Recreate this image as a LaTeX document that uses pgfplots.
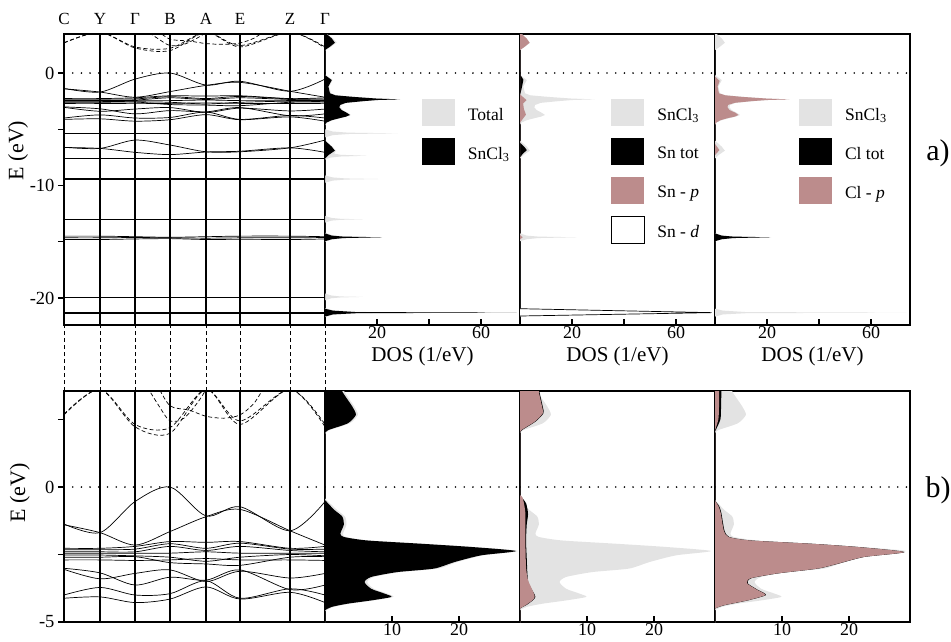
\documentclass[border=0pt]{standalone}
\usepackage{pgfplots}
\pgfplotsset{compat=1.18}
\usepackage{pgfplotstable}
\usepackage{fontspec}
\setmainfont{Liberation Serif}
\definecolor{dosgray}{RGB}{227,227,227}
\definecolor{dospink}{RGB}{188,140,140}

% band structure: k positions C Y Gamma B A E Z Gamma
\pgfplotstableread{
k v1 v2 v3 v4 v5 v6 v7 v8 v9 v10 v11 v12 v13 v14 v15 v16 v17 v18 v19 v20 v21 v22 v23 v24 v25 v26 v27 c1 c2
0 -1.37 -1.40 -2.27 -2.32 -2.40 -2.45 -2.52 -2.60 -2.70 -3.01 -3.05 -4.00 -4.12 -6.60 -6.62 -7.55 -5.32 -5.40 -9.35 -9.45 -13.00 -14.50 -14.65 -14.80 -19.90 -21.25 -21.35 2.67 2.70
36 -1.69 -1.69 -2.27 -2.32 -2.40 -2.45 -2.52 -2.60 -2.70 -3.18 -3.40 -3.72 -4.07 -6.70 -6.70 -7.55 -5.32 -5.40 -9.35 -9.45 -13.00 -14.50 -14.65 -14.80 -19.90 -21.25 -21.35 3.62 3.62
71 -0.54 -2.15 -2.20 -2.30 -2.40 -2.45 -2.55 -2.58 -2.72 -3.63 -3.20 -4.00 -4.28 -5.96 -7.05 -7.55 -5.32 -5.40 -9.35 -9.45 -13.00 -14.55 -14.62 -14.75 -19.90 -21.25 -21.35 2.32 2.23
106 0.00 -1.65 -2.02 -2.10 -2.20 -2.45 -2.60 -2.80 -2.70 -3.34 -3.07 -3.95 -4.15 -6.40 -7.25 -7.55 -5.32 -5.40 -9.35 -9.45 -13.00 -14.60 -14.65 -14.72 -19.90 -21.25 -21.35 2.20 1.99
142 -1.07 -1.10 -2.05 -2.27 -2.35 -2.40 -2.75 -2.85 -2.65 -3.45 -3.50 -3.47 -3.70 -7.00 -7.02 -7.55 -5.32 -5.40 -9.35 -9.45 -13.00 -14.55 -14.68 -14.80 -19.90 -21.25 -21.35 3.62 3.62
176 -0.73 -0.83 -2.02 -2.08 -2.20 -2.45 -2.60 -2.90 -2.70 -3.07 -3.12 -4.12 -4.15 -7.00 -6.95 -7.55 -5.32 -5.40 -9.35 -9.45 -13.00 -14.50 -14.65 -14.78 -19.90 -21.25 -21.35 2.45 2.32
226 -1.62 -1.62 -2.27 -2.30 -2.35 -2.45 -2.50 -2.60 -2.70 -3.80 -3.37 -3.77 -3.90 -6.65 -6.65 -7.55 -5.32 -5.40 -9.35 -9.45 -13.00 -14.50 -14.65 -14.80 -19.90 -21.25 -21.35 3.62 3.62
261 -0.54 -2.15 -2.20 -2.30 -2.40 -2.45 -2.55 -2.58 -2.72 -3.63 -3.20 -4.00 -4.28 -5.96 -7.05 -7.55 -5.32 -5.40 -9.35 -9.45 -13.00 -14.55 -14.62 -14.75 -19.90 -21.25 -21.35 2.32 2.23
}\bands

% ---------- top DOS (E range -22.4 .. 3.47) ----------
\pgfplotstableread{
d e
0 3.6
3.0 3.1
4.5 2.72
2.4 2.34
0 2.0
0 -0.15
2.9 -0.62
1.6 -1.21
2.3 -1.8
4.4 -1.98
11.3 -2.12
20.5 -2.27
29.2 -2.34
20.5 -2.4
15 -2.5
8.4 -2.65
6.2 -2.84
5.9 -3.05
6.8 -3.29
8.9 -3.55
10 -3.73
8.4 -3.88
6.2 -4.0
2.9 -4.2
0.9 -4.4
0 -4.65
0 -5.0
3 -5.2
9 -5.3
28 -5.36
9 -5.42
3 -5.52
0 -5.72
0 -6.0
2.9 -6.55
4.3 -6.9
3.5 -7.15
6 -7.27
16 -7.35
6 -7.42
2 -7.52
0 -7.7
0 -9.1
3 -9.28
8 -9.37
20.5 -9.42
8 -9.47
3 -9.56
0 -9.75
0 -12.7
2.5 -12.88
6 -12.96
14.7 -13.0
6 -13.05
2.5 -13.12
0 -13.3
0 -14.2
2.8 -14.42
7.5 -14.53
22.2 -14.6
7.5 -14.68
2.8 -14.8
0 -15.0
0 -19.6
2.5 -19.78
6 -19.86
14.7 -19.9
6 -19.95
2.5 -20.02
0 -20.2
0 -20.9
3.3 -21.1
12.5 -21.24
74 -21.3
12.5 -21.36
3.3 -21.48
0 -21.7
}\topTot

\pgfplotstableread{
d e
0 3.6
2.6 3.08
3.8 2.69
1.9 2.34
0 2.04
0 -0.18
2.6 -0.62
1.3 -1.21
1.9 -1.8
4 -1.98
10.9 -2.12
20 -2.27
28.8 -2.34
20 -2.4
14.7 -2.5
8 -2.65
5.8 -2.84
5.5 -3.05
6.4 -3.29
8.5 -3.55
9.6 -3.73
8 -3.88
5.8 -4.0
2.5 -4.2
0.6 -4.4
0 -4.6
0 -6.0
2.6 -6.55
3.8 -6.9
1.3 -7.3
0 -7.6
0 -14.25
2.5 -14.45
7 -14.54
21.8 -14.6
7 -14.67
2.5 -14.78
0 -14.95
0 -20.95
3 -21.12
12 -21.25
73.7 -21.3
12 -21.35
3 -21.46
0 -21.65
}\topSn

\pgfplotstableread{
d e
0 -0.1
1.3 -0.6
0.8 -1.2
0.3 -1.7
0 -2.0
0 -6.2
1.8 -6.6
2.6 -6.85
1.0 -7.2
0 -7.5
}\topSntot

\pgfplotstableread{
d e
0 3.6
2.5 3.08
3.7 2.69
1.8 2.34
0 2.04
0 -1.9
1.5 -2.2
2.5 -2.4
1.2 -2.7
1.5 -3.2
2.3 -3.7
1.0 -4.1
0 -4.4
0 -14.4
1.0 -14.6
0 -14.8
}\topSnp

\pgfplotstableread{
d e
0 -20.95
73.7 -21.3
0 -21.6
}\topSnd

\pgfplotstableread{
d e
0 -14.25
2.5 -14.45
7 -14.54
21.2 -14.6
7 -14.67
2.5 -14.78
0 -14.95
}\topCltot

\pgfplotstableread{
d e
0 -0.3
1.8 -0.7
1.0 -1.2
1.5 -1.8
4 -1.98
10.5 -2.12
20 -2.27
28.6 -2.34
20 -2.4
14 -2.5
7.5 -2.65
5 -2.84
4.8 -3.05
5.6 -3.29
8 -3.55
9 -3.73
7.5 -3.88
5 -4.0
2 -4.2
0.5 -4.4
0 -4.6
0 -6.3
1.7 -6.85
0 -7.3
}\topClp

% ---------- bottom DOS (E range -5 .. 3.556) ----------
\pgfplotstableread{
d e
0 3.8
2.8 3.8
2.9 3.53
4.4 2.97
4.9 2.67
3.7 2.36
0.7 2.11
0 1.97
0 1.9
0 -0.35
0 -0.42
1.8 -0.85
3.0 -1.1
3.2 -1.4
2.7 -1.72
3.1 -1.85
6.6 -1.98
14.6 -2.1
22.1 -2.22
28.8 -2.37
23.6 -2.53
19.7 -2.78
16.9 -3.02
11.3 -3.15
7.3 -3.33
6.3 -3.52
7.3 -3.77
9.3 -3.95
10.2 -4.07
7.3 -4.2
3.7 -4.32
1.3 -4.44
0 -4.6
0 -4.7
0 -5.2
}\botTot

\pgfplotstableread{
d e
0 3.8
2.5 3.8
2.6 3.53
4.1 2.97
4.6 2.67
3.4 2.36
0.5 2.11
0 1.99
0 1.9
0 -0.4
0 -0.48
1.4 -0.85
2.6 -1.1
2.8 -1.4
2.3 -1.72
2.8 -1.85
6.3 -1.98
14.3 -2.1
21.8 -2.22
28.5 -2.37
23.3 -2.53
19.3 -2.78
16.3 -3.02
10.8 -3.15
6.9 -3.33
5.9 -3.52
6.9 -3.77
8.9 -3.95
9.9 -4.07
6.9 -4.2
3.4 -4.32
1 -4.44
0 -4.57
0 -4.7
0 -5.2
}\botSn

\pgfplotstableread{
d e
0 3.8
2.8 3.8
2.9 3.53
3.4 2.97
3.5 2.73
2.3 2.42
0.3 2.11
0 2.0
0 1.9
0 -0.2
0 -0.3
0.9 -0.6
1.2 -1.0
1.0 -1.4
0.9 -2.0
1.0 -2.6
1.1 -3.2
1.3 -3.6
2.3 -4.07
1.1 -4.35
0 -4.5
0 -4.6
0 -5.2
}\botSntot

\pgfplotstableread{
d e
0 3.8
2.7 3.8
2.8 3.53
3.3 2.97
3.4 2.73
2.2 2.42
0.2 2.11
0 2.0
0 1.9
0 -0.2
0 -0.3
0.4 -0.4
0.8 -0.96
0.8 -2.0
0.9 -2.95
1.2 -3.45
2.2 -4.07
1.0 -4.35
0 -4.5
0 -4.6
0 -5.2
}\botSnp

\pgfplotstableread{
d e
0 3.8
0.9 3.8
0.9 3.0
0.8 2.5
0 2.05
0 2.0
0 -0.4
0 -0.5
0.6 -0.7
0.95 -0.96
1.4 -1.6
2.1 -1.85
5.4 -1.98
14.4 -2.1
21.3 -2.22
28.3 -2.41
22.3 -2.59
18.4 -2.84
15.4 -3.02
9.4 -3.2
5.4 -3.38
4.9 -3.57
6.4 -3.81
7.6 -4.0
4.9 -4.2
1.4 -4.38
0 -4.5
0 -4.6
0 -5.2
}\botCltot

\pgfplotstableread{
d e
0 3.8
0.6 3.8
0.6 3.0
0.5 2.5
0 2.1
0 2.0
0 -0.4
0 -0.5
0.5 -0.7
0.85 -0.96
1.3 -1.6
2.0 -1.85
5.3 -1.98
14.3 -2.1
21.2 -2.22
28.2 -2.41
22.2 -2.59
18.3 -2.84
15.3 -3.02
9.3 -3.2
5.3 -3.38
4.8 -3.57
6.3 -3.81
7.5 -4.0
4.8 -4.2
1.3 -4.38
0 -4.5
0 -4.6
0 -5.2
}\botClp

\pgfplotsset{
  bandline/.style={black, line width=0.7pt, smooth, tension=0.5, forget plot},
  condline/.style={black, line width=0.7pt, smooth, tension=0.5, dash pattern=on 4pt off 2.5pt, forget plot},
  zeroline/.style={black, line width=1.8pt, line cap=round, dash pattern=on 0pt off 8.7pt, forget plot},
  bandaxis/.style={scale only axis, width=261pt, xmin=0, xmax=261,
    axis line style={line width=1.6pt},
    xtick={0,36,71,106,142,176,226,261}, xmajorgrids,
    major x grid style={black, line width=1.6pt},
    xtick style={draw=none},
    ytick pos=left, tick align=outside, major tick length=6pt,
    ytick style={line width=1.2pt, black},
    yticklabel style={font=\fontsize{18.5}{18.5}\selectfont},
    ylabel style={font=\fontsize{22}{22}\selectfont},
    /pgf/number format/assume math mode=true},
  dosaxis/.style={scale only axis, width=195pt, xmin=0,
    axis line style={line width=1.6pt},
    ytick=\empty, xtick pos=left, tick align=inside, major tick length=6pt,
    xtick style={line width=1.2pt, black},
    xticklabel style={font=\fontsize{18}{18}\selectfont, yshift=2pt},
    xlabel style={font=\fontsize{21}{21}\selectfont, inner sep=1pt},
    /pgf/number format/assume math mode=true,
    legend image code/.code={\path[##1] (0pt,-11pt) rectangle (33pt,16pt);},
    legend cell align=left},
  mylegend/.style={legend style={draw=none, fill=none, at={(#1,0.777)}, anchor=north west,
    inner sep=0pt, outer sep=0pt, row sep=12pt,
    font=\fontsize{17.5}{17.5}\selectfont, nodes={inner sep=0pt},
    /tikz/every odd column/.append style={column sep=13pt}}},
  topdos/.style={dosaxis, height=291pt, ymin=-22.4, ymax=3.47, xmax=75,
    xtick={20,40,60}, xticklabels={20,,60},
    xlabel={DOS (1/eV)}, xlabel style={at={(axis description cs:0.5,-0.1065)}, anchor=center}},
  botdos/.style={dosaxis, height=231pt, ymin=-5, ymax=3.556, xmax=29.1,
    xtick={10,20}},
}

\newcommand{\drawbands}{%
  \pgfplotsinvokeforeach{v1,v2,v3,v4,v5,v6,v7,v8,v9,v10,v11,v12,v13,v14,v15,v16,v17,v18,v19,v20,v21,v22,v23,v24,v25,v26,v27}{%
    \addplot[bandline] table[x=k,y=##1]{\bands};}
  \addplot[condline] table[x=k,y=c1]{\bands};
  \addplot[condline] table[x=k,y=c2]{\bands};
  \addplot[condline] coordinates {(80,3.9) (95,3.0) (106,2.45) (120,2.55) (135,3.2) (145,3.8)};
  \addplot[condline] coordinates {(93,3.8) (106,3.01) (125,2.85) (142,2.62) (160,2.55) (176,2.67) (190,3.1) (200,3.7)};
  \addplot[zeroline] coordinates {(0,0) (261,0)};
}

\begin{document}
\begin{tikzpicture}
\useasboundingbox (0pt,0pt) rectangle (951pt,-641pt);

% ---------------- top row ----------------
\begin{axis}[bandaxis, at={(64pt,-34pt)}, anchor=north west, height=291pt,
  ymin=-22.4, ymax=3.47, ytick={-20,-15,-10,-5,0}, yticklabels={-20,,-10,,0},
  xticklabels={C,Y,Γ,B,A,E,Z,Γ}, xticklabel pos=right,
  xticklabel style={anchor=center, yshift=9pt, font=\fontsize{17}{17}\selectfont},
  ylabel={E (eV)}, ylabel style={at={(axis description cs:-0.176,0.60)}, anchor=center}]
\drawbands
\end{axis}

\begin{axis}[topdos, at={(325pt,-34pt)}, anchor=north west, mylegend=0.497]
\addplot[fill=dosgray, draw=none] table[x=d,y=e]{\topTot};
\addlegendentry{Total}
\addplot[fill=black, draw=none] table[x=d,y=e]{\topSn};
\addlegendentry{SnCl\textsubscript{3}}
\addplot[zeroline] coordinates {(0,0) (75,0)};
\end{axis}

\begin{axis}[topdos, at={(520pt,-34pt)}, anchor=north west, mylegend=0.465]
\addplot[fill=dosgray, draw=none] table[x=d,y=e]{\topSn};
\addlegendentry{SnCl\textsubscript{3}}
\addplot[fill=black, draw=none] table[x=d,y=e]{\topSntot};
\addlegendentry{Sn tot}
\addplot[fill=dospink, draw=none] table[x=d,y=e]{\topSnp};
\addlegendentry{Sn - \textit{p}}
\addplot[fill=white, draw=black, line width=0.7pt] table[x=d,y=e]{\topSnd};
\addlegendentry{Sn - \textit{d}}
\addplot[zeroline] coordinates {(0,0) (75,0)};
\end{axis}

\begin{axis}[topdos, at={(715pt,-34pt)}, anchor=north west, mylegend=0.431]
\addplot[fill=dosgray, draw=none] table[x=d,y=e]{\topSn};
\addlegendentry{SnCl\textsubscript{3}}
\addplot[fill=black, draw=none] table[x=d,y=e]{\topCltot};
\addlegendentry{Cl tot}
\addplot[fill=dospink, draw=none] table[x=d,y=e]{\topClp};
\addlegendentry{Cl - \textit{p}}
\addplot[zeroline] coordinates {(0,0) (75,0)};
\end{axis}

% ---------------- connectors ----------------
\begin{axis}[scale only axis, at={(64pt,-325pt)}, anchor=north west, width=261pt, height=66pt,
  xmin=0, xmax=261, ymin=0, ymax=1, hide axis, clip=false]
\pgfplotsinvokeforeach{0,36,71,106,142,176,226,261}{%
  \addplot[black, line width=0.8pt, dash pattern=on 4pt off 3pt] coordinates {(#1,0) (#1,1)};}
\end{axis}

% ---------------- bottom row ----------------
\begin{axis}[bandaxis, at={(64pt,-391pt)}, anchor=north west, height=231pt,
  ymin=-5, ymax=3.556, ytick={-5,-2.5,0,2.5}, yticklabels={-5,,0,},
  xticklabels={},
  ylabel={E (eV)}, ylabel style={at={(axis description cs:-0.169,0.558)}, anchor=center}]
\drawbands
\end{axis}

\begin{axis}[botdos, at={(325pt,-391pt)}, anchor=north west]
\addplot[fill=dosgray, draw=none, smooth, tension=0.4] table[x=d,y=e]{\botTot};
\addplot[fill=black, draw=none, smooth, tension=0.4] table[x=d,y=e]{\botSn};
\addplot[zeroline] coordinates {(0,0) (29.1,0)};
\end{axis}

\begin{axis}[botdos, at={(520pt,-391pt)}, anchor=north west]
\addplot[fill=dosgray, draw=none, smooth, tension=0.4] table[x=d,y=e]{\botSn};
\addplot[fill=black, draw=none, smooth, tension=0.4] table[x=d,y=e]{\botSntot};
\addplot[fill=dospink, draw=none, smooth, tension=0.4] table[x=d,y=e]{\botSnp};
\addplot[zeroline] coordinates {(0,0) (29.1,0)};
\end{axis}

\begin{axis}[botdos, at={(715pt,-391pt)}, anchor=north west]
\addplot[fill=dosgray, draw=none, smooth, tension=0.4] table[x=d,y=e]{\botSn};
\addplot[fill=black, draw=none, smooth, tension=0.4] table[x=d,y=e]{\botCltot};
\addplot[fill=dospink, draw=none, smooth, tension=0.4] table[x=d,y=e]{\botClp};
\addplot[zeroline] coordinates {(0,0) (29.1,0)};
\end{axis}

\node[font=\fontsize{30}{30}\selectfont, anchor=center] at (938pt,-153pt) {a)};
\node[font=\fontsize{30}{30}\selectfont, anchor=center] at (938pt,-490pt) {b)};
\end{tikzpicture}
\end{document}
